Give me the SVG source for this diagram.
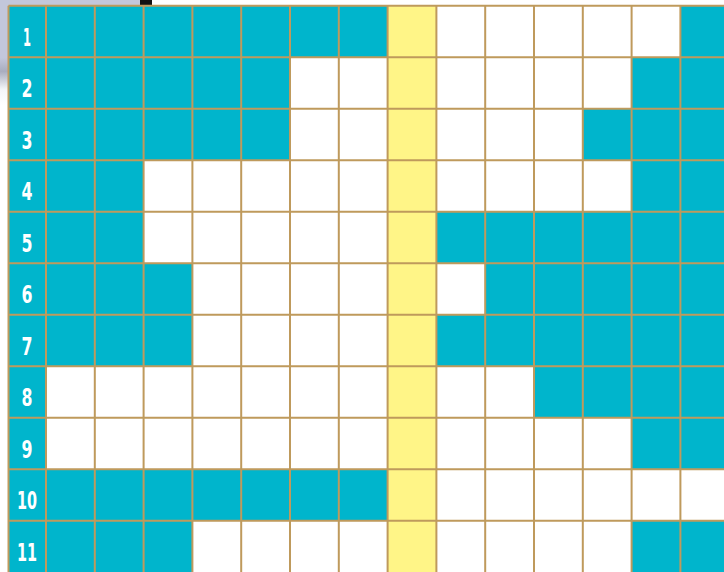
<svg xmlns="http://www.w3.org/2000/svg" width="724" height="572" viewBox="0 0 724 572">
<defs>
<style>
.t{fill:#00b5cc}
.y{fill:#fff587}
.g{stroke:#bf9a5c;stroke-width:2;fill:none}
.n{font-family:"DejaVu Sans Condensed","DejaVu Sans",sans-serif;font-weight:bold;font-size:24px;fill:#ffffff;text-anchor:middle}
</style>
<linearGradient id="bg" x1="0" y1="0" x2="0" y2="1">
<stop offset="0" stop-color="#c3c7db"/>
<stop offset="0.55" stop-color="#c3c7db"/>
<stop offset="0.68" stop-color="#a9adbf"/>
<stop offset="0.85" stop-color="#f4f5f8"/>
<stop offset="1" stop-color="#ffffff"/>
</linearGradient>
</defs>
<rect x="0" y="0" width="724" height="572" fill="#ffffff"/>
<g id="background">
<rect x="0" y="0" width="9" height="105" fill="url(#bg)"/>
<rect x="0" y="0" width="145" height="6" fill="#c3c7db"/>
<rect x="140" y="0" width="12" height="5" fill="#111111"/>
</g>
<g id="cells">
<rect class="t" x="8.5" y="5.7" width="37.5" height="566.3"/>
<rect class="y" x="387.6" y="5.7" width="48.8" height="566.3"/>
<rect class="t" x="46" y="5.7" width="341.6" height="51.5"/>
<rect class="t" x="680.4" y="5.7" width="48.8" height="51.5"/>
<rect class="t" x="46" y="57.2" width="244" height="51.5"/>
<rect class="t" x="631.6" y="57.2" width="97.6" height="51.5"/>
<rect class="t" x="46" y="108.7" width="244" height="51.5"/>
<rect class="t" x="582.8" y="108.7" width="146.4" height="51.5"/>
<rect class="t" x="46" y="160.2" width="97.6" height="51.5"/>
<rect class="t" x="631.6" y="160.2" width="97.6" height="51.5"/>
<rect class="t" x="46" y="211.7" width="97.6" height="51.5"/>
<rect class="t" x="436.4" y="211.7" width="292.8" height="51.5"/>
<rect class="t" x="46" y="263.2" width="146.4" height="51.5"/>
<rect class="t" x="485.2" y="263.2" width="244" height="51.5"/>
<rect class="t" x="46" y="314.7" width="146.4" height="51.5"/>
<rect class="t" x="436.4" y="314.7" width="292.8" height="51.5"/>
<rect class="t" x="534" y="366.2" width="195.2" height="51.5"/>
<rect class="t" x="631.6" y="417.7" width="97.6" height="51.5"/>
<rect class="t" x="46" y="469.2" width="341.6" height="51.5"/>
<rect class="t" x="46" y="520.7" width="146.4" height="51.5"/>
<rect class="t" x="631.6" y="520.7" width="97.6" height="51.5"/>
</g>
<g id="gridlines" class="g">
<path d="M8.5 5.7V572M46 5.7V572M94.8 5.7V572M143.6 5.7V572M192.4 5.7V572M241.2 5.7V572M290 5.7V572M338.8 5.7V572M387.6 5.7V572M436.4 5.7V572M485.2 5.7V572M534 5.7V572M582.8 5.7V572M631.6 5.7V572M680.4 5.7V572"/>
<path d="M8.5 5.7H724M8.5 57.2H724M8.5 108.7H724M8.5 160.2H724M8.5 211.7H724M8.5 263.2H724M8.5 314.7H724M8.5 366.2H724M8.5 417.7H724M8.5 469.2H724M8.5 520.7H724"/>
</g>
<g id="labels">
<text class="n" x="27" y="45.5" textLength="8" lengthAdjust="spacingAndGlyphs">1</text>
<text class="n" x="27" y="97" textLength="11" lengthAdjust="spacingAndGlyphs">2</text>
<text class="n" x="27" y="148.5" textLength="11" lengthAdjust="spacingAndGlyphs">3</text>
<text class="n" x="27" y="200" textLength="11" lengthAdjust="spacingAndGlyphs">4</text>
<text class="n" x="27" y="251.5" textLength="11" lengthAdjust="spacingAndGlyphs">5</text>
<text class="n" x="27" y="303" textLength="11" lengthAdjust="spacingAndGlyphs">6</text>
<text class="n" x="27" y="354.5" textLength="11" lengthAdjust="spacingAndGlyphs">7</text>
<text class="n" x="27" y="406" textLength="11" lengthAdjust="spacingAndGlyphs">8</text>
<text class="n" x="27" y="457.5" textLength="11" lengthAdjust="spacingAndGlyphs">9</text>
<text class="n" x="27" y="509" textLength="20" lengthAdjust="spacingAndGlyphs">10</text>
<text class="n" x="27" y="560.5" textLength="20" lengthAdjust="spacingAndGlyphs">11</text>
</g>
</svg>
